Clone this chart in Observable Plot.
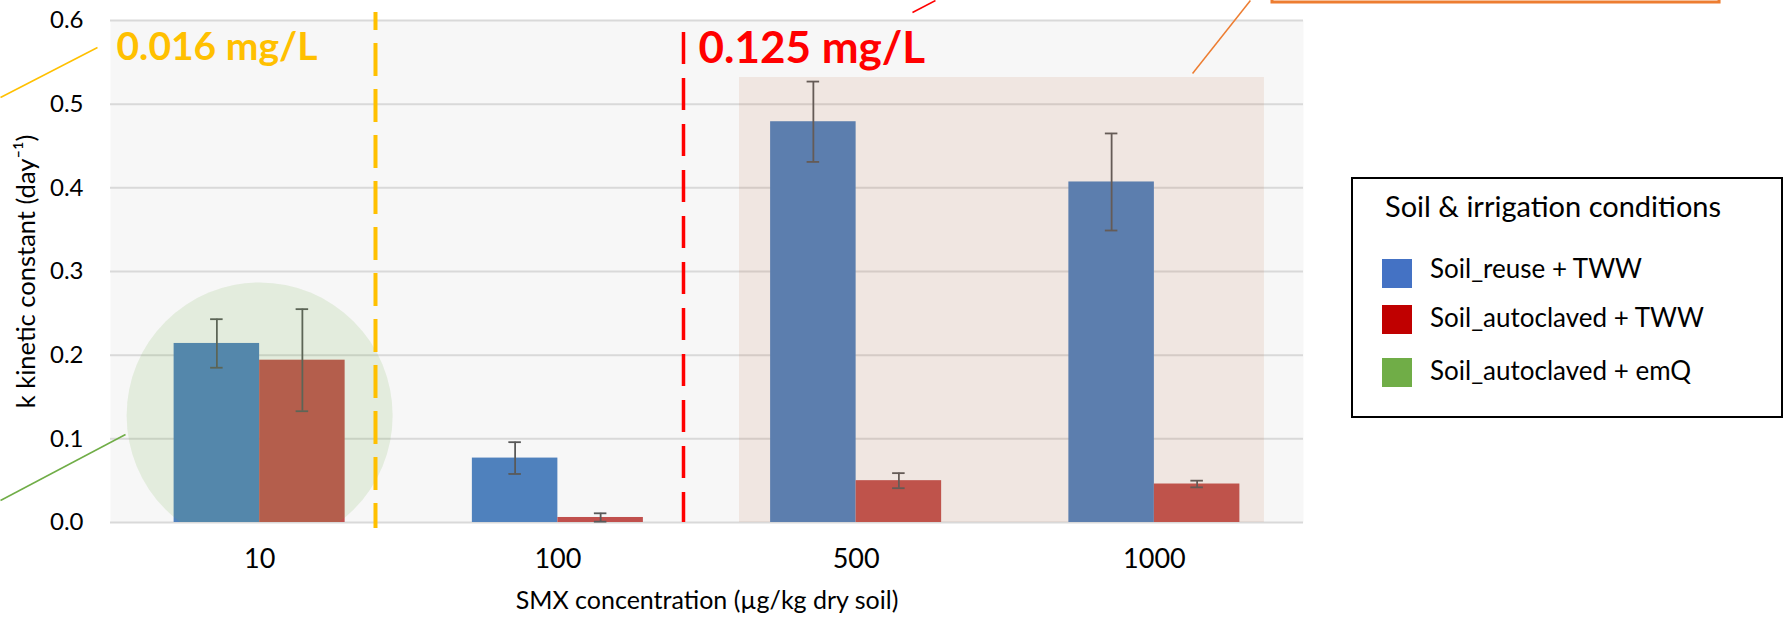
<!DOCTYPE html>
<html><head><meta charset="utf-8">
<script src="https://cdn.jsdelivr.net/npm/d3@7"></script>
<script src="https://cdn.jsdelivr.net/npm/@observablehq/plot@0.6"></script>
<style>
body{margin:0;background:#fff;font-family:Lato, sans-serif;}
#wrap{position:relative;width:1784px;height:618px;overflow:hidden;}
.lg{position:absolute;white-space:nowrap;color:#000;font-family:Lato, sans-serif;}
</style></head><body><div id="wrap"></div>
<script>
// ---- data ----
const groups = ["10", "100", "500", "1000"];
const reuseTWW = [0.214, 0.077, 0.479, 0.407];
const reuseTWWErr = [0.029, 0.019, 0.048, 0.058];
const autoTWW = [0.194, 0.006, 0.050, 0.046];
const autoTWWErr = [0.061, 0.005, 0.009, 0.004];
const yTicks = [0, 0.1, 0.2, 0.3, 0.4, 0.5, 0.6];
const legendTitle = "Soil & irrigation conditions";
const legendLabels = ["Soil_reuse + TWW", "Soil_autoclaved + TWW", "Soil_autoclaved + emQ"];
const legendColors = ["#4472C4", "#C00000", "#70AD47"];
const xTitle = "SMX concentration (µg/kg dry soil)";
const yTitle = "k kinetic constant (day⁻¹)";
const limitLabels = ["0.016 mg/L", "0.125 mg/L"];

// ---- layout / style ----
const barW = 0.2867, capW = 0.021;
const blueRows = groups.map((g, i) => ({i, v: reuseTWW[i], e: reuseTWWErr[i], c: i - barW / 2}));
const redRows = groups.map((g, i) => ({i, v: autoTWW[i], e: autoTWWErr[i], c: i + barW / 2}));
const errRows = blueRows.concat(redRows);
const errColor = "#595959";

const chart = Plot.plot({
  width: 1784, height: 618,
  marginLeft: 110, marginRight: 481, marginTop: 20, marginBottom: 96,
  style: {fontFamily: "Lato, sans-serif", fontSize: "24px", color: "#000", background: "transparent"},
  x: {type: "linear", domain: [-0.5, 3.5]},
  y: {domain: [0, 0.6]},
  marks: [
    Plot.frame({fill: "#f7f7f7", stroke: null}),
    Plot.ruleY(yTicks, {stroke: "#d9d9d9", strokeWidth: 2}),
    Plot.rect(blueRows, {x1: d => d.i - barW, x2: d => d.i, y1: 0, y2: "v", fill: "#4F81BD"}),
    Plot.rect(redRows, {x1: d => d.i, x2: d => d.i + barW, y1: 0, y2: "v", fill: "#C0504D"}),
    Plot.ruleX(errRows, {x: "c", y1: d => d.v - d.e, y2: d => d.v + d.e, stroke: errColor, strokeWidth: 1.8}),
    Plot.ruleY(errRows, {y: d => d.v + d.e, x1: d => d.c - capW, x2: d => d.c + capW, stroke: errColor, strokeWidth: 1.8}),
    Plot.ruleY(errRows, {y: d => d.v - d.e, x1: d => d.c - capW, x2: d => d.c + capW, stroke: errColor, strokeWidth: 1.8}),
    // highlight areas
    Plot.rect([0], {x1: 1.609, x2: 3.369, y1: 0, y2: 0.5319, fill: "#C0693F", fillOpacity: 0.12}),
    Plot.dot([0], {x: 0, y: 0.1279, r: 133, fill: "#70AD47", fillOpacity: 0.15, stroke: null, clip: true}),
    // threshold lines
    Plot.ruleX([0.3885], {y1: 0.6096, y2: -0.0072, stroke: "#FFC000", strokeWidth: 4, strokeDasharray: "33,13", strokeDashoffset: 15}),
    Plot.ruleX([1.4212], {y1: 0.5857, y2: 0, stroke: "#FF0000", strokeWidth: 3.5, strokeDasharray: "32,14"}),
    Plot.text([limitLabels[0]], {x: -0.4799, y: 0.5677, text: d => d, textAnchor: "start", fill: "#FFC000", fontWeight: "bold", fontSize: 39}),
    Plot.text([limitLabels[1]], {x: 1.4715, y: 0.5659, text: d => d, textAnchor: "start", fill: "#FF0000", fontWeight: "bold", fontSize: 44}),
    // callout connectors
    Plot.link([0], {x1: -0.8688, y1: 0.508, x2: -0.5436, y2: 0.5677, stroke: "#FFC000", strokeWidth: 1.5}),
    Plot.link([0], {x1: -0.8688, y1: 0.0263, x2: -0.4497, y2: 0.1052, stroke: "#70AD47", strokeWidth: 1.5}),
    Plot.link([0], {x1: 2.189, y1: 0.6096, x2: 2.266, y2: 0.6239, stroke: "#FF0000", strokeWidth: 1.5}),
    Plot.link([0], {x1: 3.128, y1: 0.5366, x2: 3.322, y2: 0.6239, stroke: "#ED7D31", strokeWidth: 1.5}),
    Plot.rect([0], {x1: 3.396, x2: 4.895, y1: 0.6215, y2: 0.7, fill: "none", stroke: "#ED7D31", strokeWidth: 3}),
    // axes
    Plot.axisX({ticks: [0, 1, 2, 3], tickFormat: i => groups[i], tickSize: 0, tickPadding: 26, fontSize: 27, label: null}),
    Plot.axisY({ticks: yTicks, tickFormat: d3.format(".1f"), tickSize: 0, tickPadding: 27, fontSize: 24, label: null}),
    Plot.text([xTitle], {frameAnchor: "bottom", dy: 86, text: d => d, fontSize: 25}),
    Plot.text([yTitle], {frameAnchor: "left", dx: -84, rotate: -90, textAnchor: "middle", text: d => d, fontSize: 25.5})
  ]
});
const wrap = document.getElementById("wrap");
wrap.appendChild(chart);

// ---- legend ----
function el(style, text) {
  const d = document.createElement("div");
  d.className = "lg";
  Object.assign(d.style, style);
  if (text != null) d.textContent = text;
  wrap.appendChild(d);
  return d;
}
el({left: "1351px", top: "177px", width: "432px", height: "241px", border: "2px solid #000", boxSizing: "border-box", background: "#fff"});
el({left: "1385px", top: (217 - 0.887 * 29) + "px", fontSize: "29px", lineHeight: "29px"}, legendTitle);
const swTop = [259, 305, 358];
const txBase = [278, 327, 380];
legendLabels.forEach((lab, k) => {
  el({left: "1382px", top: swTop[k] + "px", width: "30px", height: "29px", background: legendColors[k]});
  el({left: "1430px", top: (txBase[k] - 0.887 * 26) + "px", fontSize: "26px", lineHeight: "26px"}, lab);
});
</script></body></html>
